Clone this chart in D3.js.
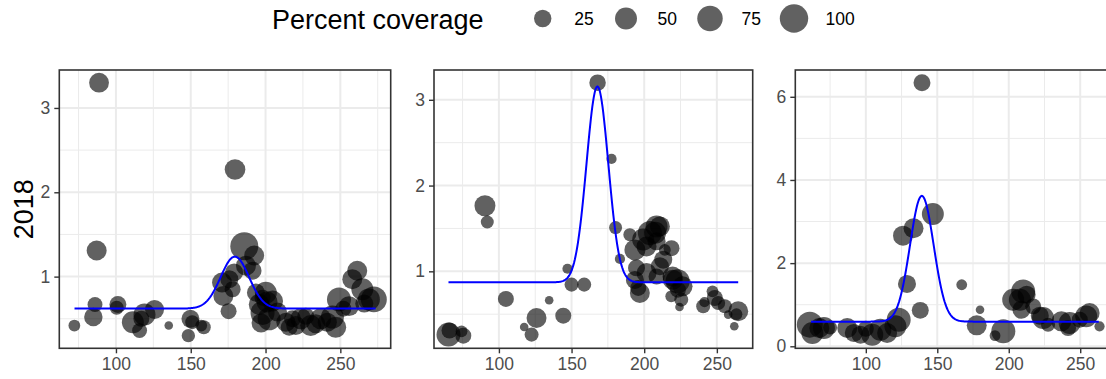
<!DOCTYPE html>
<html>
<head>
<meta charset="utf-8">
<script src="https://cdn.jsdelivr.net/npm/d3@7"></script>
<style>
  body { margin: 0; background: #fff; }
  svg text { font-family: "Liberation Sans", Arial, Helvetica, sans-serif; }
</style>
</head>
<body>
<svg id="chart" width="1106" height="379"></svg>
<script>
// ---- Observations: day of year, ratio, percent coverage (one set per panel) ----
const dayP1 = [88.7, 87.1, 179.6, 86.0, 84.9, 72.2, 101.3, 100.5, 111.3, 115.8, 119.1, 117, 125.8, 135.3,
  149.8, 151, 148.4, 158.7, 157, 170.9, 171.8, 175.8, 175.3, 178, 179, 185.8, 186.9, 192.4, 191.3, 193.6,
  195.8, 198, 200.2, 202.4, 201, 204.7, 197, 213.6, 215.8, 220.2, 223.6, 226.9, 230.2, 233.6, 236.9,
  241.3, 244.7, 246.9, 249.1, 255.8, 258, 261.3, 264.7, 269.1, 272.4, 266, 252, 208, 198, 218];
const ratioP1 = [3.30, 1.31, 2.27, 0.67, 0.52, 0.42, 0.67, 0.63, 0.46, 0.36, 0.55, 0.50, 0.61, 0.42,
  0.50, 0.46, 0.30, 0.40, 0.42, 0.93, 0.77, 0.97, 0.59, 0.85, 1.05, 1.36, 1.13, 1.25, 1.07, 0.81,
  0.67, 0.57, 0.81, 0.50, 0.70, 0.71, 0.45, 0.46, 0.40, 0.42, 0.50, 0.53, 0.42, 0.44, 0.50,
  0.46, 0.52, 0.40, 0.73, 0.65, 0.97, 1.07, 0.85, 0.73, 0.73, 0.68, 0.62, 0.58, 0.75, 0.50];
const coverP1 = [37, 38, 42, 15, 30, 6, 23, 12, 50, 15, 50, 19, 33, 1,
  28, 12, 10, 12, 6, 38, 38, 28, 19, 19, 28, 96, 38, 38, 28, 28,
  44, 64, 50, 57, 44, 44, 33, 33, 23, 33, 44, 23, 44, 33, 44,
  33, 57, 44, 64, 38, 38, 38, 50, 50, 79, 28, 19, 33, 19, 23];

const dayP2 = [167.9, 177.5, 90.4, 92, 180.3, 147.2, 150, 158.7, 104.8, 134.6, 125.9, 144.3, 117.4, 122.5,
  65.3, 74.3, 75.5, 66, 190.1, 193.6, 183.3, 199.3, 203.9, 208.5, 207.5, 210.8, 201.6, 208.5, 214.2,
  218.8, 213.1, 201.6, 194.7, 193.6, 195.9, 197, 208.5, 210.8, 223, 219.5, 226.4, 219.7, 223.2, 218.6,
  225.5, 224.3, 240.6, 247, 248.6, 250.9, 255.5, 257.8, 264.7, 263.5, 262, 241.5];
const ratioP2 = [3.20, 2.31, 1.765, 1.575, 1.51, 1.03, 0.845, 0.845, 0.678, 0.662, 0.456, 0.483, 0.351, 0.262,
  0.262, 0.30, 0.25, 0.31, 1.427, 1.25, 1.144, 1.37, 1.447, 1.524, 1.45, 1.524, 1.29, 1.35, 1.25,
  1.27, 1.136, 0.98, 1.04, 0.90, 0.806, 0.747, 0.94, 1.06, 0.884, 0.94, 0.825, 0.903, 0.786, 0.709,
  0.67, 0.584, 0.592, 0.767, 0.689, 0.631, 0.592, 0.495, 0.534, 0.50, 0.359, 0.64];
const coverP2 = [21, 3, 44, 9, 9, 3, 12, 12, 19, 1, 38, 19, 1, 12,
  64, 6, 19, 19, 9, 44, 3, 50, 64, 50, 50, 38, 38, 28, 6,
  19, 28, 38, 23, 28, 19, 38, 19, 28, 64, 38, 38, 38, 19, 6,
  12, 1, 12, 6, 19, 12, 12, 1, 38, 6, 1, 3];

const dayP3 = [139.3, 146.9, 133.4, 126, 128.8, 138.1, 167.1, 179.9, 177.6, 190.4, 196.2, 60.8, 62.6, 70.7,
  67.5, 87, 91.6, 96.3, 104.5, 110.2, 114.9, 120.7, 123, 210.1, 207.8, 203.1, 208.9, 212.5, 217.1,
  221.7, 224, 227.5, 236.8, 242.6, 241.5, 254.2, 256.6, 249.7, 263.5, 100, 75];
const ratioP3 = [6.34, 3.18, 2.84, 2.66, 1.50, 0.864, 1.48, 0.88, 0.504, 0.256, 0.36, 0.52, 0.32, 0.44,
  0.44, 0.44, 0.32, 0.28, 0.28, 0.40, 0.32, 0.48, 0.64, 1.32, 1.12, 1.12, 0.88, 1.24, 0.96,
  0.736, 0.68, 0.52, 0.60, 0.56, 0.44, 0.72, 0.80, 0.64, 0.48, 0.42, 0.45];
const coverP3 = [23, 50, 38, 38, 28, 23, 4, 1, 38, 4, 64, 79, 50, 50,
  38, 38, 28, 28, 50, 50, 38, 50, 64, 64, 50, 50, 28, 28, 19,
  28, 50, 12, 38, 50, 19, 50, 38, 19, 3, 19, 12];

// ---- Fitted peak curves (baseline + Gaussian bump) ----
const fitBase   = [0.621, 0.872, 0.593];
const fitPeak   = [1.237, 3.155, 3.617];
const fitCenter = [179.5, 167.8, 139.2];
const fitSpread = [9.5, 7.5, 8.3];
const fitStart  = [72.3, 65.3, 61.7];
const fitEnd    = [273.6, 264.7, 263.0];

// ---- Axis breaks ----
const xBreaks  = [100, 150, 200, 250];
const yBreaksP1 = [1, 2, 3];
const yBreaksP2 = [1, 2, 3];
const yBreaksP3 = [0, 2, 4, 6];

// ---- Legend ----
const legendTitle = "Percent coverage";
const legendValues = [25, 50, 75, 100];
const rowLabel = "2018";

// ---- Layout ----
const frames = [
  { left: 59.3,  top: 70, width: 331.4, height: 278.3 },
  { left: 434.0, top: 70, width: 318.7, height: 278.3 },
  { left: 795.3, top: 70, width: 318.7, height: 278.3 }
];
const tickFont = 17.5, tickLen = 5, gridMajor = "#ebebeb", axisCol = "#333333";

const svg = d3.select("#chart");
const rScale = d3.scaleSqrt().domain([0, 100]).range([3.2, 14.2]);
const dotOpacity = 0.62;

const panels = [
  { day: dayP1, ratio: ratioP1, cover: coverP1, yBreaks: yBreaksP1 },
  { day: dayP2, ratio: ratioP2, cover: coverP2, yBreaks: yBreaksP2 },
  { day: dayP3, ratio: ratioP3, cover: coverP3, yBreaks: yBreaksP3 }
];

function minorBreaks(breaks, domain) {
  const step = breaks[1] - breaks[0];
  const out = [];
  for (let i = -1; i < breaks.length; i++) {
    const v = (i < 0 ? breaks[0] - step : breaks[i]) + step / 2;
    if (v > domain[0] && v < domain[1]) out.push(v);
  }
  return out;
}
function expand(lo, hi) {
  const pad = (hi - lo) * 0.05;
  return [lo - pad, hi + pad];
}

panels.forEach((p, i) => {
  const f = frames[i];
  const curveFn = x => fitBase[i] + (fitPeak[i] - fitBase[i]) *
    Math.exp(-((x - fitCenter[i]) ** 2) / (2 * fitSpread[i] ** 2));
  const curveX = d3.range(fitStart[i], fitEnd[i], 0.5).concat([fitEnd[i]]);
  const curvePts = curveX.map(x => [x, curveFn(x)]);

  const xs = p.day.concat([fitStart[i], fitEnd[i]]);
  const ys = p.ratio.concat(curvePts.map(d => d[1]));
  const x = d3.scaleLinear().domain(expand(d3.min(xs), d3.max(xs))).range([f.left, f.left + f.width]);
  const y = d3.scaleLinear().domain(expand(d3.min(ys), d3.max(ys))).range([f.top + f.height, f.top]);

  const g = svg.append("g");
  const clipId = "clip" + i;
  svg.append("clipPath").attr("id", clipId)
    .append("rect").attr("x", f.left).attr("y", f.top).attr("width", f.width).attr("height", f.height);

  g.append("rect").attr("x", f.left).attr("y", f.top).attr("width", f.width).attr("height", f.height)
    .attr("fill", "#fff");

  const grid = g.append("g").attr("clip-path", `url(#${clipId})`);
  const xMinor = minorBreaks(xBreaks, x.domain());
  const yMinor = minorBreaks(p.yBreaks, y.domain());
  grid.selectAll(".xminor").data(xMinor).join("line")
    .attr("x1", d => x(d)).attr("x2", d => x(d)).attr("y1", f.top).attr("y2", f.top + f.height)
    .attr("stroke", gridMajor).attr("stroke-width", 1);
  grid.selectAll(".yminor").data(yMinor).join("line")
    .attr("y1", d => y(d)).attr("y2", d => y(d)).attr("x1", f.left).attr("x2", f.left + f.width)
    .attr("stroke", gridMajor).attr("stroke-width", 1);
  grid.selectAll(".xmajor").data(xBreaks).join("line")
    .attr("x1", d => x(d)).attr("x2", d => x(d)).attr("y1", f.top).attr("y2", f.top + f.height)
    .attr("stroke", gridMajor).attr("stroke-width", 2);
  grid.selectAll(".ymajor").data(p.yBreaks).join("line")
    .attr("y1", d => y(d)).attr("y2", d => y(d)).attr("x1", f.left).attr("x2", f.left + f.width)
    .attr("stroke", gridMajor).attr("stroke-width", 2);

  const marks = g.append("g").attr("clip-path", `url(#${clipId})`);
  marks.selectAll("circle").data(d3.range(p.day.length)).join("circle")
    .attr("cx", k => x(p.day[k])).attr("cy", k => y(p.ratio[k])).attr("r", k => rScale(p.cover[k]))
    .attr("fill", "#000").attr("fill-opacity", dotOpacity);

  marks.append("path").datum(curvePts)
    .attr("d", d3.line().x(d => x(d[0])).y(d => y(d[1])))
    .attr("fill", "none").attr("stroke", "#0000ff").attr("stroke-width", 2);

  g.append("rect").attr("x", f.left).attr("y", f.top).attr("width", f.width).attr("height", f.height)
    .attr("fill", "none").attr("stroke", axisCol).attr("stroke-width", 1.6);

  // x axis
  const xAxis = d3.axisBottom(x).tickValues(xBreaks).tickFormat(d3.format("d"))
    .tickSize(tickLen).tickPadding(4);
  const gx = g.append("g").attr("transform", `translate(0,${f.top + f.height})`).call(xAxis);
  gx.select(".domain").remove();
  gx.selectAll("line").attr("stroke", axisCol).attr("stroke-width", 1.4);
  gx.selectAll("text").attr("fill", "#4d4d4d").style("font-size", tickFont + "px")
    .style("font-family", '"Liberation Sans", Arial, sans-serif');

  // y axis
  const yAxis = d3.axisLeft(y).tickValues(p.yBreaks).tickFormat(d3.format("d"))
    .tickSize(tickLen).tickPadding(4);
  const gy = g.append("g").attr("transform", `translate(${f.left},0)`).call(yAxis);
  gy.select(".domain").remove();
  gy.selectAll("line").attr("stroke", axisCol).attr("stroke-width", 1.4);
  gy.selectAll("text").attr("fill", "#4d4d4d").style("font-size", tickFont + "px")
    .style("font-family", '"Liberation Sans", Arial, sans-serif');
});

// row label
svg.append("text")
  .attr("transform", `translate(32.5,${frames[0].top + frames[0].height / 2}) rotate(-90)`)
  .attr("text-anchor", "middle").attr("fill", "#000").style("font-size", "27px")
  .text(rowLabel);

// size legend
const legend = svg.append("g");
legend.append("text").attr("x", 272).attr("y", 28.5).attr("fill", "#000")
  .style("font-size", "27px").text(legendTitle);
const keyX = d3.scaleOrdinal().domain(legendValues).range([542.7, 626, 710, 794]);
legend.selectAll("circle").data(legendValues).join("circle")
  .attr("cx", d => keyX(d)).attr("cy", 18.5).attr("r", d => rScale(d))
  .attr("fill", "#000").attr("fill-opacity", dotOpacity);
legend.selectAll(".lab").data(legendValues).join("text")
  .attr("x", d => keyX(d) + 31.5).attr("y", 25).attr("fill", "#000")
  .style("font-size", "17.5px").text(d => d);
</script>
</body>
</html>
